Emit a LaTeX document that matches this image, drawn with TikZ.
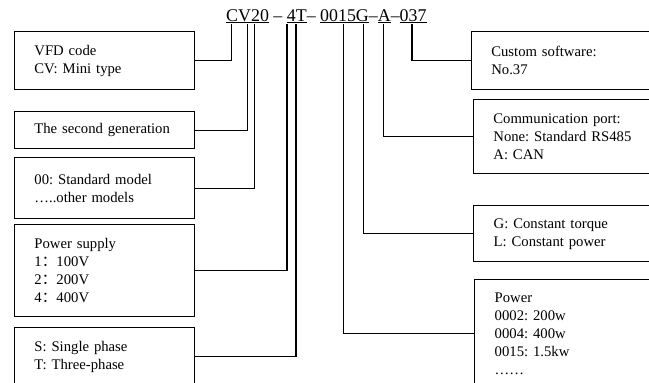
\documentclass[tikz,border=0pt]{standalone}
\usepackage{fontspec}
\setmainfont{Liberation Serif}
\newfontfamily\cjk{Noto Sans CJK SC}
\frenchspacing
\begin{document}
\begin{tikzpicture}[y ={(0pt,-1pt)}, x ={(1pt,0pt)},
		box/.style={draw, line width=1.4pt, anchor=north west, align=left, inner xsep=20pt, inner ysep=0pt, font=\fontsize{14.7}{18}\selectfont},
		leftbox/.style={box, text width=140pt},
		rightbox/.style={box, text width=170pt},
		wire/.style={line width=1.4pt}]
			\clip (0,0) rectangle (649,383);
			\node [anchor=base west, inner sep=0pt, font=\fontsize{17.9}{20}\selectfont] (code) at (226,21) {\underline{CV20} -- \underline{4T}-- \underline{0015G}--\underline{A}--\underline{037}};
			% taps under the code letters
			\coordinate (tapC) at (231.7,24);
			\coordinate (tapV) at (247.3,24);
			\coordinate (tap2) at (254.5,24);
			\coordinate (tap4) at (286.8,24);
			\coordinate (tapT) at (295.8,24);
			\coordinate (tapP) at (343.3,24);
			\coordinate (tapG) at (363.3,24);
			\coordinate (tapA) at (383.5,24);
			\coordinate (tapS) at (412,24);
			% left side
			\node [leftbox, minimum height=58pt] (vfd) at (13.7,31) {VFD code\\CV: Mini type};
			\node [leftbox, minimum height=37pt] (gen) at (13.7,111) {The second generation};
			\node [leftbox, minimum height=61pt] (model) at (13.7,157) {00: Standard model\\…..other models};
			\node [leftbox, minimum height=92pt] (supply) at (13.7,224) {Power supply\\1{\cjk ：}100V\\2{\cjk ：}200V\\4{\cjk ：}400V};
			\node [leftbox, minimum height=58pt] (phase) at (13.7,327) {S: Single phase\\T: Three-phase};
			% right side
			\node [rightbox, minimum height=58pt] (soft) at (470.6,31) {Custom software:\\No.37};
			\node [rightbox, minimum height=74pt] (port) at (472.7,99) {Communication port:\\None: Standard RS485\\A: CAN};
			\node [rightbox, minimum height=56pt] (torque) at (473,205) {G: Constant torque\\L: Constant power};
			\node [rightbox, minimum height=108pt] (power) at (474,279) {Power\\0002: 200w\\0004: 400w\\0015: 1.5kw\\……};
			% connectors
			\draw [wire] (tapC) |- (vfd.east);
			\draw [wire] (tapV) |- (gen.east);
			\draw [wire] (tap2) |- (model.east);
			\draw [wire] (tap4) |- (supply.east);
			\draw [wire] (tapT) |- (phase.east);
			\draw [wire] (tapS) |- (soft.west);
			\draw [wire] (tapA) |- (port.west);
			\draw [wire] (tapG) |- (torque.west);
			\draw [wire] (tapP) |- (power.west);
		\end{tikzpicture}
\end{document}
